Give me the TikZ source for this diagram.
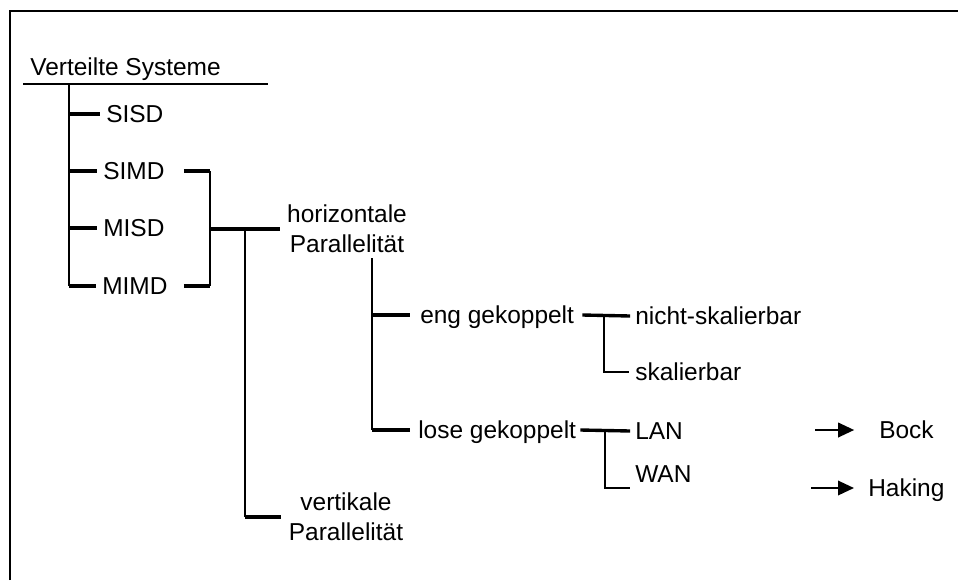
\documentclass[tikz,border=0pt]{standalone}
\usepackage{fontspec}
\setmainfont{Liberation Sans}
\usetikzlibrary{arrows.meta,positioning,calc}
\tikzset{
  lbl/.style    = {inner sep=0pt, anchor=west,
                   font=\fontsize{17.4pt}{21.3pt}\selectfont,
                   text height=12.5pt, text depth=0pt},
  twolbl/.style = {inner sep=0pt, align=center,
                   font=\fontsize{17.4pt}{21.3pt}\selectfont},
  stem/.style   = {line width=1.4pt},
  twig/.style   = {line width=2.4pt},
  myarrow/.style= {-{Triangle[length=0.4cm, width=0.36cm]},
                   line width=1.6pt},
}

\begin{document}
\begin{tikzpicture}[x=0.025cm, y=-0.025cm]
  \useasboundingbox (0,0) rectangle (958,580);

  %% ---- frame ----
  \draw[line width=2.1pt] (10,580) -- (10,11) -- (958,11);

  %% ---- labels ----
  \node[lbl] (vs)     at (30,67)   {Verteilte Systeme};
  \node[lbl] (sisd)   at (106,114) {SISD};
  \node[lbl] (simd)   at (103,171) {SIMD};
  \node[lbl] (misd)   at (103,228) {MISD};
  \node[lbl] (mimd)   at (102,286) {MIMD};
  \node[twolbl] (hpar) at (347,229) {horizontale\\Parallelität};
  \node[twolbl] (vpar) at (346,517) {vertikale\\Parallelität};
  \node[lbl] (eng)    at (420,315) {eng gekoppelt};
  \node[lbl] (lose)   at (418,430) {lose gekoppelt};
  \node[lbl] (nskal)  at (635,316) {nicht-skalierbar};
  \node[lbl] (skal)   at (635,372) {skalierbar};
  \node[lbl] (lan)    at (635,431) {LAN};
  \node[lbl] (wan)    at (635,474) {WAN};
  \node[lbl] (bock)   at (879,430) {Bock};
  \node[lbl] (haking) at (868,488) {Haking};

  %% ---- root and first level ----
  \coordinate (root) at (69,84);
  \draw[stem] (23,84) -- (268,84);
  \draw[stem] (root) -- (root |- mimd.west);
  \foreach \n in {sisd,simd,misd,mimd}
    \draw[twig] (root |- \n.west) -- ([xshift=-0.14cm]\n.west);

  %% ---- bracket SIMD..MIMD ----
  \coordinate (join) at (210,229);
  \draw[twig] ([xshift=0.48cm]simd.east) -- (simd.east -| join);
  \draw[twig] ([xshift=0.4cm]mimd.east)  -- (mimd.east -| join);
  \draw[stem] (simd.east -| join) -- (mimd.east -| join);
  \draw[twig] (join) -- ([xshift=-0.18cm]hpar.west);

  %% ---- vertikale Parallelitaet ----
  \coordinate (vfork) at (245,229);
  \draw[stem] (vfork) -- (vfork |- vpar.west);
  \draw[twig] (vfork |- vpar.west) -- ([xshift=-0.2cm]vpar.west);

  %% ---- coupling ----
  \coordinate (hfork) at (372,258);
  \draw[stem] (hfork) -- (hfork |- lose.west);
  \draw[twig] (hfork |- eng.west)  -- ([xshift=-0.25cm]eng.west);
  \draw[twig] (hfork |- lose.west) -- ([xshift=-0.2cm]lose.west);

  %% ---- eng gekoppelt ----
  \coordinate (efork) at (604,316);
  \draw[twig] ([xshift=0.2cm]eng.east) -- ([xshift=-0.12cm]nskal.west);
  \draw[stem] (efork) |- ([xshift=-0.15cm]skal.west);

  %% ---- lose gekoppelt ----
  \coordinate (lfork) at (605,431);
  \draw[twig] ([xshift=0.1cm]lose.east) -- ([xshift=-0.12cm]lan.west);
  \draw[stem] (lfork) |- ([xshift=-0.12cm, yshift=-0.12cm]wan.south west);

  %% ---- arrows ----
  \coordinate (bockTail) at (815,430);
  \coordinate (hakTail)  at (811,488);
  \draw[myarrow, shorten >=0.62cm] (bockTail) -- (bock.west);
  \draw[myarrow, shorten >=0.35cm] (hakTail)  -- (haking.west);

\end{tikzpicture}
\end{document}
